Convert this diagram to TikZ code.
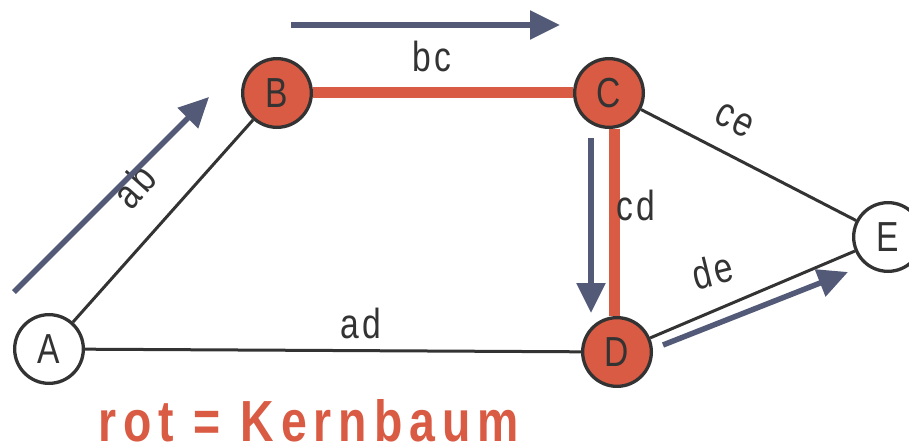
\documentclass[tikz,border=0pt]{standalone}
\usepackage{fontspec}
\usepackage{tikz}
\usetikzlibrary{arrows.meta}
\newfontfamily\lblfont[FakeStretch=0.8,LetterSpace=8]{Liberation Sans}
\newfontfamily\titlefont[FakeStretch=0.8,LetterSpace=12]{Liberation Sans Bold}
\definecolor{kernred}{HTML}{D95B43}
\definecolor{walkblue}{HTML}{525A78}
\definecolor{linegray}{HTML}{333333}

\begin{document}
\begin{tikzpicture}[x=1pt,y=-1pt,
  main node/.style={circle,draw=linegray,line width=3.3pt,minimum size=68.7pt,inner sep=0pt,text=linegray,font=\lblfont\fontsize{42}{50}\selectfont},
  tree node/.style={main node,fill=kernred},
  plain edge/.style={draw=linegray,line width=3pt},
  tree edge/.style={draw=kernred,line width=11pt},
  walk/.style={draw=walkblue,line width=5.5pt,-{Triangle[length=30pt,width=28pt]}}]

				\useasboundingbox (0,0) rectangle (909,446);

				\node[main node] (A) at (49,349) {A};
				\node[tree node] (B) at (277,93) {B};
				\node[tree node] (C) at (609,93) {C};
				\node[tree node] (D) at (617,352) {D};
				\node[main node] (E) at (888,237) {E};

				\path[every node/.style={text=linegray,font=\lblfont\fontsize{42}{50}\selectfont}]
				(A) edge[plain edge] node[pos=.525,sloped,above=25pt] {ab} (B)
				(A) edge[plain edge] node[pos=.556,above=6.6pt] {ad} (D)
				(B) edge[tree edge] node[pos=.458,above=12.6pt] {bc} (C)
				(C.south -| 614,0) edge[tree edge] node[pos=.41,right,xshift=-6pt] {cd} (D.north -| 614,0)
				(C) edge[plain edge] node[pos=.364,sloped,above=16.7pt] {ce} (E)
				(D) edge[plain edge] node[pos=.35,rotate=14,yshift=38pt] {de} (E);

				% walk along the tree
				\coordinate (ab0) at (14,292);
				\coordinate (ab1) at (209,97);
				\coordinate (bc0) at (291,25);
				\coordinate (bc1) at (560,25);
				\coordinate (cd0) at (591,138);
				\coordinate (cd1) at (591,313);
				\coordinate (de0) at (663,345);
				\coordinate (de1) at (848,272);
				\draw[walk] (ab0) -- (ab1);
				\draw[walk] (bc0) -- (bc1);
				\draw[walk] (cd0) -- (cd1);
				\draw[walk] (de0) -- (de1);

				\node[anchor=base west,inner sep=0pt,text=kernred,font=\titlefont\fontsize{58}{64}\selectfont] (legend) at (98,441) {rot = Kernbaum};

				\end{tikzpicture}
\end{document}
